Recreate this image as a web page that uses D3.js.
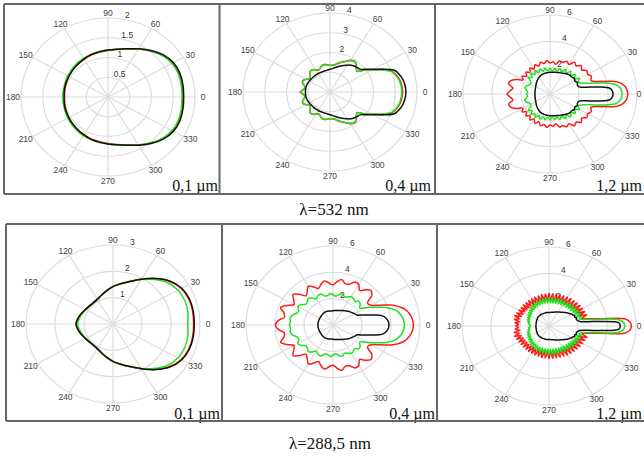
<!DOCTYPE html>
<html>
<head>
<meta charset="utf-8">
<script src="https://cdn.jsdelivr.net/npm/d3@7"></script>
<style>
  body { margin: 0; background: #fff; }
  svg { display: block; }
</style>
</head>
<body>
<svg id="chart" width="644" height="456"></svg>
<script>
// Scattering indicatrices: intensity vs scattering angle (0..180 deg),
// drawn symmetric about the 0-180 axis. Three particle models per panel.

// ---- angle grids (degrees) ----
const ang10 = [0,10,20,30,40,50,60,70,80,90,100,110,120,130,140,150,160,170,180];
const ang5 = [0,5,10,15,20,25,30,35,40,45,50,55,60,65,70,75,80,85,90,95,100,105,110,115,120,125,130,135,140,145,150,155,160,165,170,175,180];
const angLobe = [0,3,6,9,12,15,20,25,30,35,40,45,50,55,60,65,70,75,80,85,90,95,100,105,110,115,120,125,130,135,140,145,150,155,160,165,170,175,180];
const ang3 = [0,3,6,9,12,15,18,21,24,27,30,33,36,39,42,45,48,51,54,57,60,63,66,69,72,75,78,81,84,87,90,93,96,99,102,105,108,111,114,117,120,123,126,129,132,135,138,141,144,147,150,153,156,159,162,165,168,171,174,177,180];

// ---- λ = 532 nm ----
const vis01Black = [1.74,1.75,1.76,1.74,1.66,1.54,1.41,1.30,1.23,1.19,1.16,1.14,1.11,1.08,1.06,1.04,1.03,1.02,1.01];
const vis01Red   = [1.72,1.73,1.74,1.72,1.64,1.52,1.40,1.29,1.22,1.18,1.15,1.13,1.10,1.08,1.06,1.04,1.02,1.01,1.00];
const vis01Green = [1.70,1.71,1.72,1.70,1.63,1.52,1.40,1.30,1.23,1.19,1.17,1.15,1.13,1.11,1.09,1.07,1.05,1.04,1.04];

const vis04Black = [3.49,3.47,3.42,3.32,3.18,2.74,2.30,2.00,1.80,1.76,1.72,1.66,1.56,1.48,1.40,1.32,1.25,1.19,1.15,1.12,1.10,1.09,1.08,1.08,1.08,1.08,1.08,1.08,1.08,1.09,1.10,1.11,1.12,1.13,1.13,1.13,1.13];
const vis04Red   = [3.34,3.32,3.28,3.18,3.05,2.65,2.25,1.95,1.62,1.72,1.88,1.92,1.85,1.72,1.62,1.52,1.42,1.36,1.35,1.38,1.42,1.40,1.30,1.22,1.28,1.38,1.40,1.30,1.18,1.15,1.28,1.38,1.35,1.22,1.15,1.25,1.38];
const vis04Green = [3.30,3.28,3.24,3.15,3.02,2.63,2.24,1.94,1.64,1.70,1.86,1.90,1.83,1.70,1.60,1.50,1.40,1.35,1.34,1.37,1.40,1.38,1.30,1.24,1.30,1.38,1.38,1.28,1.18,1.17,1.28,1.36,1.33,1.22,1.17,1.24,1.34];

const vis12Black = [4.35,4.31,4.15,3.39,2.50,2.08,2.02,2.08,1.98,2.05,1.98,1.97,1.94,1.88,1.82,1.77,1.73,1.70,1.68,1.66,1.65,1.63,1.62,1.60,1.58,1.54,1.48,1.42,1.36,1.30,1.24,1.18,1.14,1.10,1.08,1.06,1.05,1.04,1.04];
const vis12Red   = [5.36,5.33,5.22,5.01,4.60,3.71,3.00,3.15,3.00,3.10,2.85,3.05,2.80,2.95,2.60,2.75,2.55,2.60,2.30,2.45,2.35,2.55,2.35,2.50,2.25,2.45,2.20,2.40,2.15,2.35,2.10,2.35,2.15,2.60,2.90,2.95,2.60,2.75,2.96];
const vis12Green = [4.97,4.94,4.83,4.61,3.99,3.20,2.40,2.15,2.35,2.05,2.30,2.00,2.25,1.95,2.15,1.85,2.05,1.80,1.98,1.75,1.95,1.75,1.98,1.78,2.02,1.80,2.05,1.80,2.05,1.75,1.95,1.60,1.55,1.60,1.75,1.80,1.65,1.55,1.60];

// ---- λ = 288.5 nm ----
const uv01Black = [2.80,2.81,2.80,2.73,2.55,2.26,1.96,1.72,1.55,1.42,1.28,1.16,1.08,1.05,1.06,1.10,1.16,1.23,1.28];
const uv01Red   = [2.78,2.79,2.78,2.71,2.53,2.25,1.96,1.73,1.56,1.43,1.29,1.17,1.09,1.06,1.07,1.10,1.16,1.22,1.27];
const uv01Green = [2.58,2.62,2.63,2.58,2.45,2.21,1.95,1.72,1.55,1.42,1.28,1.16,1.08,1.05,1.05,1.08,1.13,1.18,1.22];

const uv04Black = [3.86,3.84,3.77,3.65,3.43,2.94,2.22,1.80,1.72,1.62,1.55,1.48,1.40,1.33,1.27,1.22,1.18,1.14,1.12,1.10,1.08,1.07,1.08,1.10,1.11,1.12,1.12,1.11,1.10,1.08,1.06,1.05,1.05,1.04,1.04,1.04,1.04,1.04,1.04];
const uv04Red   = [5.54,5.52,5.46,5.35,5.20,4.98,4.40,3.57,3.00,2.90,3.50,3.70,3.50,3.20,3.55,3.60,3.30,3.25,3.50,3.30,3.05,3.20,3.40,3.20,2.95,3.20,3.40,3.10,2.90,3.30,3.60,3.30,3.10,3.50,3.85,3.50,3.40,3.80,3.97];
const uv04Green = [4.92,4.90,4.85,4.75,4.62,4.43,3.91,3.17,2.62,2.25,2.45,2.55,2.35,2.45,2.50,2.35,2.30,2.45,2.35,2.20,2.30,2.40,2.25,2.30,2.50,2.45,2.30,2.50,2.65,2.50,2.45,2.70,2.80,2.60,2.65,2.90,3.00,2.95,3.00];

const uv12Black = [4.92,4.80,3.20,2.15,2.02,1.95,2.00,1.90,1.93,1.83,1.80,1.72,1.66,1.60,1.52,1.46,1.40,1.35,1.30,1.26,1.22,1.19,1.16,1.13,1.10,1.08,1.06,1.05,1.04,1.03,1.03,1.03,1.03,1.03,1.03,1.03,1.03,1.03,1.03,1.03,1.03,1.03,1.03,1.03,1.02,1.02,1.01,1.00,0.99,0.97,0.96,0.95,0.94,0.93,0.92,0.91,0.91,0.905,0.90,0.90,0.90];
const uv12Red   = [5.68,5.60,5.24,3.52,2.64,2.35,2.75,2.25,2.70,2.20,2.68,2.15,2.65,2.12,2.62,2.10,2.60,2.08,2.58,2.05,2.55,2.02,2.52,2.00,2.50,2.00,2.48,1.98,2.48,1.98,2.48,1.98,2.45,1.98,2.45,1.98,2.42,1.98,2.42,1.98,2.40,1.95,2.40,1.95,2.38,1.95,2.38,1.95,2.38,1.98,2.40,2.00,2.45,2.05,2.50,2.10,2.45,2.05,2.35,2.10,2.29];
const uv12Green = [5.22,5.15,4.78,3.20,2.40,2.15,2.35,2.05,2.35,2.00,2.35,1.95,2.30,1.90,2.28,1.88,2.25,1.85,2.22,1.82,2.22,1.80,2.20,1.78,2.20,1.78,2.20,1.76,2.18,1.76,2.18,1.75,2.15,1.75,2.12,1.72,2.10,1.72,2.05,1.70,2.00,1.66,1.95,1.62,1.90,1.58,1.82,1.52,1.75,1.48,1.68,1.45,1.62,1.42,1.58,1.38,1.50,1.35,1.42,1.30,1.30];

// ---- axis ticks and captions ----
const thetaTicks = [0,30,60,90,120,150,180,210,240,270,300,330];
const rings01vis = [0.5,1,1.5,2];
const rings04vis = [1,2,3,4];
const rings01uv  = [1,2,3];
const rings6     = [2,4,6];
const rLabels04vis = [2,3,4];
const sizeLabels = ["0,1 µm","0,4 µm","1,2 µm"];
const waveLabels = ["λ=532 nm","λ=288,5 nm"];

const seriesColors = { red: "#ff1a1a", green: "#22e022", black: "#111" };

// ---- panel layout ----
const panels = [
  { cx:108, cy:97,  rmax:2, rings:rings01vis, rlab:rings01vis,   ang:ang10,   s:{black:vis01Black, red:vis01Red, green:vis01Green}, cap:sizeLabels[0], capX:218, capY:191 },
  { cx:330, cy:92,  rmax:4, rings:rings04vis, rlab:rLabels04vis, ang:ang5,    s:{black:vis04Black, red:vis04Red, green:vis04Green}, cap:sizeLabels[1], capX:431, capY:191 },
  { cx:550, cy:94,  rmax:6, rings:rings6,     rlab:rings6,       ang:angLobe, s:{black:vis12Black, red:vis12Red, green:vis12Green}, cap:sizeLabels[2], capX:642, capY:191 },
  { cx:113, cy:324, rmax:3, rings:rings01uv,  rlab:rings01uv,    ang:ang10,   s:{black:uv01Black, red:uv01Red, green:uv01Green},    cap:sizeLabels[0], capX:220, capY:419 },
  { cx:333, cy:325, rmax:6, rings:rings6,     rlab:rings6,       ang:angLobe, s:{black:uv04Black, red:uv04Red, green:uv04Green},    cap:sizeLabels[1], capX:435, capY:419 },
  { cx:549, cy:326, rmax:6, rings:rings6,     rlab:rings6,       ang:ang3,    s:{black:uv12Black, red:uv12Red, green:uv12Green},    cap:sizeLabels[2], capX:642, capY:419 }
];

const RX = 87, RY = 79;          // outer ring half-axes (px)
const svg = d3.select("#chart");
const rad = d => d * Math.PI / 180;

panels.forEach(p => {
  const g = svg.append("g");
  const sx = d3.scaleLinear().domain([0, p.rmax]).range([0, RX]);
  const sy = d3.scaleLinear().domain([0, p.rmax]).range([0, RY]);
  const px = (t, r) => p.cx + sx(r) * Math.cos(rad(t));
  const py = (t, r) => p.cy - sy(r) * Math.sin(rad(t));

  // rings
  g.selectAll("ellipse.ring").data(p.rings).join("ellipse")
    .attr("cx", p.cx).attr("cy", p.cy)
    .attr("rx", d => sx(d)).attr("ry", d => sy(d))
    .attr("fill", "none").attr("stroke", "#dcdcdc").attr("stroke-width", 1.2);

  // spokes
  g.selectAll("line.spoke").data(thetaTicks).join("line")
    .attr("x1", p.cx).attr("y1", p.cy)
    .attr("x2", t => px(t, p.rmax)).attr("y2", t => py(t, p.rmax))
    .attr("stroke", "#dcdcdc").attr("stroke-width", 1.2);

  // angle labels (kept inside the page width)
  g.selectAll("text.theta").data(thetaTicks).join("text")
    .attr("x", t => Math.min(p.cx + (RX + 8) * Math.cos(rad(t)), 639))
    .attr("y", t => p.cy - (RY + 5) * Math.sin(rad(t)))
    .attr("text-anchor", "middle").attr("dominant-baseline", "central")
    .attr("font-family", "Liberation Sans, Arial, sans-serif")
    .attr("font-size", 8.5).attr("fill", "#444")
    .text(t => t);

  // radial labels along 80 degrees
  g.selectAll("text.rlab").data(p.rlab).join("text")
    .attr("x", r => px(80, r) + 2)
    .attr("y", r => py(80, r) - 4)
    .attr("text-anchor", "start").attr("dominant-baseline", "central")
    .attr("font-family", "Liberation Sans, Arial, sans-serif")
    .attr("font-size", 8.5).attr("fill", "#333")
    .text(r => r);

  // curves (mirror the 0..180 half below the axis)
  const line = d3.line().x(d => d[0]).y(d => d[1]).curve(d3.curveCatmullRomClosed.alpha(0.5));
  ["red", "green", "black"].forEach(k => {
    const vals = p.s[k];
    const pts = p.ang.map((t, i) => [px(t, vals[i]), py(t, vals[i])]);
    for (let i = p.ang.length - 2; i >= 1; i--) {
      pts.push([px(-p.ang[i], vals[i]), py(-p.ang[i], vals[i])]);
    }
    g.append("path").attr("d", line(pts))
      .attr("fill", "none").attr("stroke", seriesColors[k])
      .attr("stroke-width", 1.5).attr("stroke-linejoin", "round");
  });

  // particle size caption
  g.append("text")
    .attr("x", p.capX).attr("y", p.capY)
    .attr("text-anchor", "end")
    .attr("font-family", "Liberation Serif, Times New Roman, serif")
    .attr("font-size", 16).attr("fill", "#111")
    .text(p.cap);
});

// panel frames
const frame = svg.append("g").attr("stroke", "#666").attr("stroke-width", 2).attr("fill", "none");
frame.append("path").attr("d", "M4,4 H644 M4,4 V194 M4,194 H644 M219.5,4 V194 M435,4 V194");
frame.append("path").attr("d", "M6,224 H644 M6,224 V421 M6,421 H644 M222,224 V421 M437,224 V421");

// wavelength captions
svg.append("text").attr("x", 334).attr("y", 215).attr("text-anchor", "middle")
  .attr("font-family", "Liberation Serif, Times New Roman, serif")
  .attr("font-size", 17).attr("fill", "#111").text(waveLabels[0]);
svg.append("text").attr("x", 330).attr("y", 449).attr("text-anchor", "middle")
  .attr("font-family", "Liberation Serif, Times New Roman, serif")
  .attr("font-size", 17).attr("fill", "#111").text(waveLabels[1]);
</script>
</body>
</html>
